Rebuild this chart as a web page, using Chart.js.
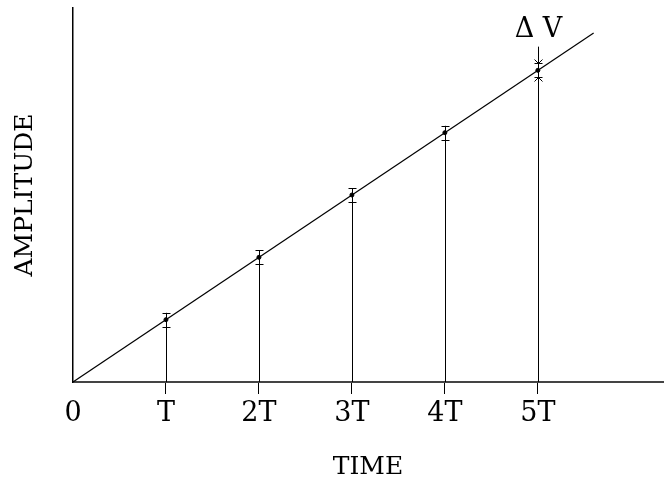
<!DOCTYPE html>
<html>
<head>
<meta charset="utf-8">
<script src="https://cdn.jsdelivr.net/npm/chart.js@4"></script>
<style>
  html, body { margin: 0; padding: 0; background: #fff; }
  #wrap { width: 666px; height: 484px; }
</style>
</head>
<body>
<div id="wrap"><canvas id="myChart"></canvas></div>
<script>
// tick positions and their labels (in units of T)
var tickValues = [0, 1, 2, 3, 4, 5];
var tickLabels = ["0", "T", "2T", "3T", "4T", "5T"];

// the straight line through the origin
var lineX = [0, 5.6];
var lineY = [0, 5.6];

// sampled points
var sampleX = [1, 2, 3, 4, 5];
var sampleY = [1, 2, 3, 4, 5];

// error bar caps (first four samples)
var errHigh = [1.11, 2.11, 3.11, 4.11];
var errLow = [0.89, 1.89, 2.89, 3.89];

// top of each vertical drop line
var dropTop = [1.11, 2.11, 3.11, 4.11, 5.38];

// delta V arrows at the last sample
var deltaHigh = 5.12;
var deltaLow = 4.9;
var deltaLabel = "\u0394 V";
var deltaLabelY = 5.64;

var FONT = "'DejaVu Serif', 'Liberation Serif', serif";

function toPoints(xs, ys) {
  return xs.map(function(x, i) { return { x: x, y: ys[i] }; });
}

// draws the drop lines, error bars, delta V arrows and label
var marksPlugin = {
  id: "marks",
  beforeDatasetsDraw: function(chart) {
    var ctx = chart.ctx;
    var xs = chart.scales.x;
    var ys = chart.scales.y;
    ctx.save();
    ctx.strokeStyle = "#000";
    ctx.lineWidth = 1;
    sampleX.forEach(function(v, i) {
      var px = Math.round(xs.getPixelForValue(v)) + 0.5;
      ctx.beginPath();
      ctx.moveTo(px, ys.getPixelForValue(0));
      ctx.lineTo(px, ys.getPixelForValue(dropTop[i]));
      ctx.stroke();
    });
    ctx.restore();
  },
  afterDatasetsDraw: function(chart) {
    var ctx = chart.ctx;
    var xs = chart.scales.x;
    var ys = chart.scales.y;
    ctx.save();
    ctx.strokeStyle = "#000";
    ctx.lineWidth = 1;
    errHigh.forEach(function(h, i) {
      var px = Math.round(xs.getPixelForValue(sampleX[i])) + 0.5;
      [h, errLow[i]].forEach(function(v) {
        var py = Math.round(ys.getPixelForValue(v)) + 0.5;
        ctx.beginPath();
        ctx.moveTo(px - 4, py);
        ctx.lineTo(px + 4, py);
        ctx.stroke();
      });
    });
    // delta V arrows pointing toward the last sample
    var ax = Math.round(xs.getPixelForValue(sampleX[4])) + 0.5;
    var up = Math.round(ys.getPixelForValue(deltaHigh)) + 0.5;
    var dn = Math.round(ys.getPixelForValue(deltaLow)) + 0.5;
    ctx.beginPath();
    ctx.moveTo(ax - 4, up); ctx.lineTo(ax + 4, up);
    ctx.moveTo(ax - 4, up - 4); ctx.lineTo(ax, up); ctx.lineTo(ax + 4, up - 4);
    ctx.moveTo(ax - 4, dn); ctx.lineTo(ax + 4, dn);
    ctx.moveTo(ax - 4, dn + 4); ctx.lineTo(ax, dn); ctx.lineTo(ax + 4, dn + 4);
    ctx.stroke();
    // label
    ctx.fillStyle = "#000";
    ctx.font = "27px " + FONT;
    ctx.textAlign = "center";
    ctx.textBaseline = "middle";
    ctx.fillText(deltaLabel, ax, ys.getPixelForValue(deltaLabelY));
    ctx.restore();
  }
};

window.onload = function() {
  var ctx = document.getElementById("myChart").getContext("2d");
  var chart = new Chart(ctx, {
    type: "scatter",
    data: {
      datasets: [
        {
          type: "line",
          data: toPoints(lineX, lineY),
          borderColor: "#000",
          borderWidth: 1.2,
          pointRadius: 0,
          fill: false
        },
        {
          data: toPoints(sampleX, sampleY),
          backgroundColor: "#000",
          borderColor: "#000",
          pointRadius: 2,
          pointHoverRadius: 2
        }
      ]
    },
    options: {
      responsive: true,
      maintainAspectRatio: false,
      animation: false,
      events: [],
      layout: { padding: { top: 8, right: 0, bottom: 0, left: 0 } },
      plugins: {
        legend: { display: false },
        tooltip: { enabled: false }
      },
      scales: {
        x: {
          type: "linear",
          min: 0,
          max: 6.346,
          afterBuildTicks: function(scale) {
            scale.ticks = tickValues.map(function(v) { return { value: v }; });
          },
          border: { display: true, color: "#444", width: 2 },
          grid: {
            drawOnChartArea: false,
            drawTicks: true,
            tickLength: 12,
            tickWidth: 1,
            tickColor: function(c) {
              return c.tick && c.tick.value === 0 ? "rgba(0,0,0,0)" : "#000";
            }
          },
          ticks: {
            padding: 4,
            color: "#000",
            maxRotation: 0,
            autoSkip: false,
            font: { family: FONT, size: 27 },
            callback: function(value) {
              var i = tickValues.indexOf(value);
              return i >= 0 ? tickLabels[i] : "";
            }
          },
          title: {
            display: true,
            text: "TIME",
            color: "#000",
            font: { family: FONT, size: 25 },
            padding: { top: 17.6, bottom: 2 }
          }
        },
        y: {
          type: "linear",
          min: 0,
          max: 6.0,
          border: { display: true, color: "#000", width: 1.5 },
          grid: { display: false, drawTicks: false },
          ticks: { display: false },
          title: {
            display: true,
            text: "AMPLITUDE",
            color: "#000",
            font: { family: FONT, size: 25 },
            padding: { top: 10, bottom: 33 }
          }
        }
      }
    },
    plugins: [marksPlugin]
  });
};
</script>
</body>
</html>
